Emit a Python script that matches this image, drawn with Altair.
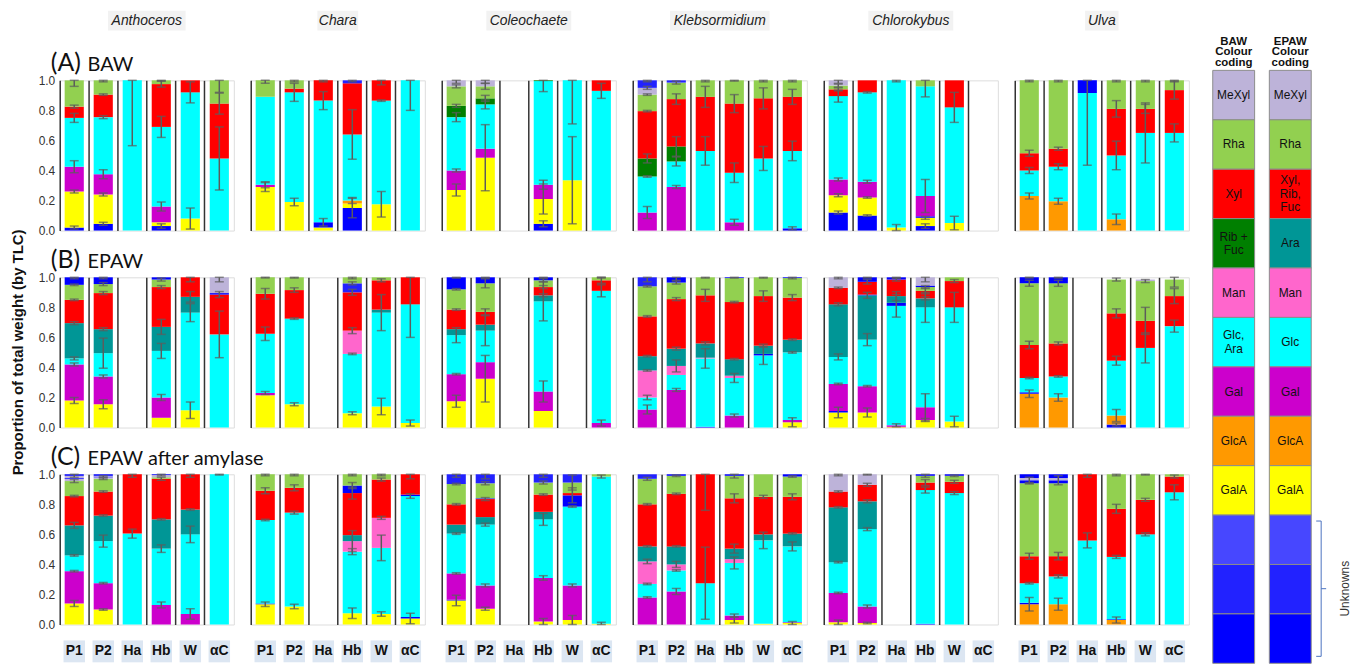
import altair as alt
import pandas as pd

GENERA = ["Anthoceros", "Chara", "Coleochaete", "Klebsormidium", "Chlorokybus", "Ulva"]
CATS = ["P1", "P2", "Ha", "Hb", "W", "αC"]
ROW_TAGS = ["(A)", "(B)", "(C)"]
ROW_NAMES = ["BAW", "EPAW", "EPAW after amylase"]
Y_TITLE = "Proportion of total weight (by TLC)"
Y_TICKS = [0.0, 0.2, 0.4, 0.6, 0.8, 1.0]

COMP_KEYS = ["MeX", "Rha", "Xyl", "RF", "Ara", "Man", "Glc", "Gal", "GlcA", "GalA", "Ud1", "Ud", "U"]
COMP_COLORS = ["#bdb3d9", "#92d050", "#ff0000", "#007f00", "#009696", "#ff66cc", "#00ffff",
               "#cc00cc", "#ff9900", "#ffff00", "#4747ff", "#2222ff", "#0000ff"]

LEG_SCHEMES = ["BAW", "EPAW"]
LEG_HEADERS = ["BAW\nColour\ncoding", "EPAW\nColour\ncoding"]
LEG_BAW_KEYS = ["MeX", "Rha", "Xyl", "RF", "Man", "Glc", "Gal", "GlcA", "GalA", "Ud1", "Ud", "U"]
LEG_BAW_LABELS = ["MeXyl", "Rha", "Xyl", "Rib +\nFuc", "Man", "Glc,\nAra", "Gal", "GlcA", "GalA", "", "", ""]
LEG_EPAW_KEYS = ["MeX", "Rha", "Xyl", "Ara", "Man", "Glc", "Gal", "GlcA", "GalA", "Ud1", "Ud", "U"]
LEG_EPAW_LABELS = ["MeXyl", "Rha", "Xyl,\nRib,\nFuc", "Ara", "Man", "Glc", "Gal", "GlcA", "GalA", "", "", ""]
UNKNOWNS_LABEL = "Unknowns"

# each bar: (component, cumulative top, error half-width)
# ---------------- (A) BAW ----------------
A_ANTHOCEROS = {
    "P1": [("U", .02, .01), ("GalA", .26, .01), ("Gal", .425, .04), ("Glc", .75, .03), ("Xyl", .825, .01), ("Rha", 1.0, .04)],
    "P2": [("U", .045, .01), ("GalA", .24, .01), ("Gal", .375, .03), ("Glc", .755, .01), ("Xyl", .905, .005), ("Rha", 1.0, .01)],
    "Ha": [("Glc", 1.0, .435)],
    "Hb": [("U", .03, .015), ("GalA", .055, 0), ("Gal", .16, .03), ("Glc", .69, .07), ("Xyl", .975, .02), ("Rha", 1.0, .005)],
    "W": [("GalA", .08, .07), ("Glc", .92, .07), ("Xyl", 1.0, 0)],
    "αC": [("Glc", .48, .21), ("Xyl", .845, .07), ("Rha", 1.0, .08)],
}
A_CHARA = {
    "P1": [("GalA", .29, .03), ("Gal", .305, .02), ("Glc", .89, 0), ("Rha", 1.0, .02)],
    "P2": [("GalA", .19, .025), ("Glc", .92, .06), ("Xyl", .945, 0), ("Rha", 1.0, .01)],
    "Ha": [("GalA", .02, 0), ("U", .055, .025), ("Glc", .865, .06), ("Xyl", 1.0, .01)],
    "Hb": [("U", .15, .065), ("GalA", .18, 0), ("GlcA", .2, .02), ("Glc", .64, .165), ("Xyl", .98, 0), ("Ud", 1.0, .01)],
    "W": [("GalA", .175, .085), ("Glc", .865, .005), ("Xyl", 1.0, .03)],
    "αC": [("Glc", 1.0, .2)],
}
A_COLEOCHAETE = {
    "P1": [("GalA", .27, .04), ("Gal", .40, .01), ("Glc", .755, .03), ("RF", .83, .01), ("Rha", .96, .01), ("MeX", 1.0, .02)],
    "P2": [("GalA", .485, .22), ("Gal", .545, 0), ("Glc", .84, .03), ("RF", .88, .02), ("Rha", .96, .02), ("MeX", 1.0, .02)],
    "Ha": [],
    "Hb": [("U", .045, .02), ("GalA", .21, .1), ("Gal", .305, .03), ("Glc", .995, .07), ("RF", 1.0, 0)],
    "W": [("GalA", .335, .29), ("Glc", 1.0, .29)],
    "αC": [("Glc", .93, .05), ("Xyl", 1.0, 0)],
}
A_KLEBSORMIDIUM = {
    "P1": [("Gal", .12, .04), ("Glc", .36, .005), ("RF", .48, .03), ("Xyl", .795, .005), ("Rha", .905, .005), ("MeX", .95, .01), ("Ud", 1.0, .01)],
    "P2": [("Gal", .29, .01), ("Glc", .46, .03), ("RF", .56, .065), ("Xyl", .875, .035), ("Rha", .985, .01), ("Ud", 1.0, 0)],
    "Ha": [("Glc", .53, .095), ("Xyl", .89, .07), ("Rha", 1.0, .01)],
    "Hb": [("Gal", .055, .02), ("Glc", .385, .065), ("Xyl", .845, .06), ("Rha", 1.0, .005)],
    "W": [("Glc", .48, .08), ("Xyl", .88, .07), ("Rha", 1.0, .01)],
    "αC": [("U", .015, .01), ("Glc", .53, .065), ("Xyl", .89, .05), ("Rha", 1.0, .01)],
}
A_CHLOROKYBUS = {
    "P1": [("U", .12, .01), ("GalA", .235, .01), ("Gal", .34, .01), ("Glc", .895, .04), ("Xyl", .94, .01), ("Rha", .965, .01), ("MeX", 1.0, .02)],
    "P2": [("U", .10, .005), ("GalA", .22, .005), ("Gal", .325, .01), ("Glc", .92, .005), ("Xyl", 1.0, 0)],
    "Ha": [("GalA", .02, .02), ("Glc", 1.0, .01)],
    "Hb": [("U", .03, .015), ("GalA", .085, .01), ("U", .095, 0), ("Gal", .23, .11), ("Glc", .96, .07), ("Rha", 1.0, 0)],
    "W": [("GalA", .05, .045), ("Glc", .82, .1), ("Xyl", 1.0, 0)],
    "αC": [],
}
A_ULVA = {
    "P1": [("GlcA", .23, .02), ("Glc", .40, .02), ("Xyl", .515, .02), ("Rha", 1.0, .01)],
    "P2": [("GlcA", .195, .02), ("Glc", .425, .02), ("Xyl", .545, .01), ("Rha", 1.0, .01)],
    "Ha": [("Glc", .915, .48), ("U", 1.0, 0)],
    "Hb": [("GlcA", .075, .035), ("Glc", .5, .095), ("Xyl", .81, .055), ("Rha", 1.0, .01)],
    "W": [("Glc", .65, .2), ("Xyl", .81, .03), ("Rha", 1.0, .01)],
    "αC": [("Glc", .65, .06), ("Xyl", .935, .06), ("Rha", 1.0, .01)],
}
# ---------------- (B) EPAW ----------------
B_ANTHOCEROS = {
    "P1": [("GalA", .18, .02), ("Gal", .42, .01), ("Glc", .46, .01), ("Ara", .695, .01), ("Xyl", .85, .005), ("Rha", .95, .005), ("U", 1.0, .01)],
    "P2": [("GalA", .155, .03), ("Gal", .34, .01), ("Glc", .495, .1), ("Ara", .655, .01), ("Xyl", .895, .01), ("Rha", .955, .01), ("U", 1.0, .01)],
    "Ha": [],
    "Hb": [("GalA", .065, 0), ("Gal", .2, .02), ("Glc", .51, .05), ("Ara", .67, .05), ("Xyl", .935, .01), ("Rha", .985, .01), ("U", 1.0, 0)],
    "W": [("GalA", .115, .055), ("Glc", .765, .06), ("Ara", .87, .035), ("Xyl", 1.0, .03)],
    "αC": [("Glc", .62, .155), ("Xyl", .885, .02), ("U", .895, 0), ("MeX", 1.0, .03)],
}
B_CHARA = {
    "P1": [("GalA", .215, 0), ("Gal", .23, .01), ("Glc", .625, .045), ("Xyl", .89, .035), ("Rha", 1.0, .005)],
    "P2": [("GalA", .155, .01), ("Glc", .725, .005), ("Xyl", .915, .015), ("Rha", 1.0, .005)],
    "Ha": [],
    "Hb": [("GalA", .095, .01), ("Glc", .49, .005), ("Man", .645, .02), ("Xyl", .9, .02), ("Ud", .96, .01), ("Rha", 1.0, .01)],
    "W": [("GalA", .14, .055), ("Glc", .765, .12), ("Ara", .785, 0), ("Xyl", .98, .01), ("Rha", 1.0, 0)],
    "αC": [("GalA", .03, .02), ("Glc", .82, .22), ("Xyl", 1.0, 0)],
}
B_COLEOCHAETE = {
    "P1": [("GalA", .175, .04), ("Gal", .355, .005), ("Glc", .615, .05), ("Ara", .655, 0), ("Xyl", .785, .005), ("Rha", .92, .005), ("U", 1.0, .005)],
    "P2": [("GalA", .325, .155), ("Gal", .435, 0), ("Glc", .645, .1), ("Ara", .685, 0), ("Xyl", .77, .02), ("Rha", .96, .03), ("U", 1.0, .005)],
    "Ha": [],
    "Hb": [("GalA", .11, 0), ("Gal", .24, .07), ("Glc", .84, .13), ("Ara", .88, .01), ("Xyl", .935, .01), ("Rha", .98, .01), ("U", 1.0, .005)],
    "W": [],
    "αC": [("Gal", .03, .02), ("Glc", .91, .04), ("Xyl", .98, .02), ("Rha", 1.0, .005)],
}
B_KLEBSORMIDIUM = {
    "P1": [("Gal", .12, .03), ("Glc", .2, .015), ("Man", .38, .005), ("Ara", .475, .005), ("Xyl", .74, .005), ("Rha", .94, .005), ("Ud", 1.0, .03)],
    "P2": [("Gal", .25, .01), ("Glc", .35, 0), ("Man", .41, .04), ("Ara", .525, .01), ("Xyl", .855, .01), ("Rha", .965, .01), ("U", 1.0, .02)],
    "Ha": [("U", .005, 0), ("Glc", .46, .065), ("Man", .465, 0), ("Ara", .56, .01), ("Xyl", .88, .04), ("Rha", 1.0, .005)],
    "Hb": [("Gal", .08, .01), ("Glc", .33, .03), ("Man", .345, 0), ("Ara", .455, .005), ("Xyl", .835, .005), ("Rha", .995, 0), ("U", 1.0, .005)],
    "W": [("Glc", .48, .06), ("U", .49, 0), ("Ara", .545, .01), ("Xyl", .875, .035), ("Rha", 1.0, .005)],
    "αC": [("GalA", .035, .03), ("Gal", .05, 0), ("Glc", .5, .005), ("Ara", .585, .005), ("Xyl", .865, .02), ("Rha", .995, .005), ("U", 1.0, 0)],
}
B_CHLOROKYBUS = {
    "P1": [("GalA", .10, .035), ("U", .11, 0), ("Gal", .29, .005), ("Glc", .47, .02), ("Ara", .82, .01), ("Xyl", .93, .005), ("MeX", 1.0, .01)],
    "P2": [("GalA", .10, .03), ("Gal", .275, .005), ("Glc", .585, .04), ("Ara", .88, .02), ("U", .885, 0), ("Xyl", .97, .015), ("U", 1.0, .005)],
    "Ha": [("GlcA", .005, 0), ("Gal", .015, .01), ("Glc", .81, .075), ("U", .83, 0), ("Ara", .875, .03), ("Xyl", .985, .01), ("U", 1.0, .005)],
    "Hb": [("GalA", .05, .01), ("Gal", .135, .09), ("Glc", .80, .1), ("Ara", .86, .01), ("Xyl", .91, .02), ("Rha", .935, .01), ("U", .945, 0), ("MeX", 1.0, .03)],
    "W": [("GalA", .04, .035), ("Glc", .80, .1), ("Xyl", .975, .01), ("Rha", 1.0, 0)],
    "αC": [],
}
B_ULVA = {
    "P1": [("GlcA", .225, .025), ("U", .235, 0), ("Glc", .33, .005), ("Xyl", .55, .025), ("Rha", .96, .02), ("U", 1.0, .005)],
    "P2": [("GlcA", .20, .025), ("Glc", .34, .005), ("Xyl", .56, .01), ("Rha", .96, .02), ("U", 1.0, .005)],
    "Ha": [],
    "Hb": [("U", .02, .01), ("GlcA", .08, .04), ("Glc", .445, .03), ("Xyl", .76, .03), ("Rha", .985, .01)],
    "W": [("Glc", .53, .1), ("Xyl", .71, .09), ("Rha", .975, .01), ("MeX", .985, 0)],
    "αC": [("Glc", .675, .04), ("Xyl", .875, .05), ("Rha", .985, .05)],
}
# ---------------- (C) EPAW after amylase ----------------
C_ANTHOCEROS = {
    "P1": [("GalA", .14, .02), ("Gal", .355, .005), ("Glc", .46, .005), ("Ara", .66, .02), ("Xyl", .855, .005), ("Rha", .955, .01), ("MeX", .97, 0), ("U", .975, 0), ("MeX", .99, .01), ("U", 1.0, 0)],
    "P2": [("GalA", .10, .005), ("Gal", .275, .005), ("Glc", .555, .04), ("Ara", .725, .005), ("Xyl", .885, .005), ("Rha", .97, .005), ("MeX", .98, 0), ("U", .985, .005), ("MeX", .99, 0), ("U", 1.0, 0)],
    "Ha": [("Glc", .605, .03), ("Xyl", 1.0, .02)],
    "Hb": [("Gal", .13, .02), ("Glc", .505, .025), ("Ara", .70, .005), ("Xyl", .97, .01), ("Rha", .98, 0), ("MeX", .995, .005), ("U", 1.0, 0)],
    "W": [("Gal", .07, .035), ("Glc", .60, .055), ("Ara", .765, .005), ("Xyl", 1.0, .02)],
    "αC": [("Glc", 1.0, .005)],
}
C_CHARA = {
    "P1": [("GalA", .135, .015), ("U", .14, 0), ("Glc", .695, .005), ("Xyl", .89, .02), ("Rha", 1.0, .01)],
    "P2": [("GalA", .12, .015), ("Glc", .745, .01), ("Xyl", .91, .02), ("Rha", 1.0, .01)],
    "Ha": [],
    "Hb": [("GalA", .075, .035), ("Glc", .485, .02), ("Man", .555, .07), ("Ara", .595, 0), ("Xyl", .875, .04), ("U", .925, .02), ("Rha", 1.0, .01)],
    "W": [("GalA", .07, .015), ("Glc", .51, .085), ("Man", .71, .01), ("Xyl", .965, .01), ("Rha", 1.0, .01)],
    "αC": [("GalA", .04, .035), ("U", .05, 0), ("Glc", .855, .015), ("U", .865, 0), ("Xyl", 1.0, .03)],
}
C_COLEOCHAETE = {
    "P1": [("GalA", .16, .035), ("U", .165, 0), ("Gal", .34, .005), ("Glc", .605, .005), ("Ara", .665, 0), ("Xyl", .80, .005), ("Rha", .935, .005), ("Ud", 1.0, .02)],
    "P2": [("GalA", .105, .01), ("Gal", .26, .01), ("Glc", .665, .01), ("Ara", .715, 0), ("Xyl", .835, .01), ("U", .84, 0), ("Rha", .94, .01), ("Ud", 1.0, .03)],
    "Ha": [],
    "Hb": [("GalA", .02, .02), ("Gal", .31, .015), ("Glc", .70, .04), ("Ara", .75, 0), ("Xyl", .865, .005), ("Rha", .945, .01), ("Ud", 1.0, .02)],
    "W": [("GalA", .03, .03), ("Gal", .26, .01), ("Glc", .785, .005), ("U", .86, .05), ("Xyl", .875, 0), ("Rha", .945, .05), ("Ud", 1.0, 0)],
    "αC": [("GalA", .005, .01), ("Glc", .985, .01), ("Rha", 1.0, 0)],
}
C_KLEBSORMIDIUM = {
    "P1": [("Gal", .18, .005), ("Glc", .27, .005), ("Man", .42, .015), ("Ara", .52, .005), ("Xyl", .80, .005), ("Rha", .97, .01), ("Ud", 1.0, 0)],
    "P2": [("Gal", .22, .02), ("Glc", .36, .005), ("Man", .40, .02), ("Ara", .52, .005), ("Xyl", .87, .005), ("Rha", .99, .005), ("U", 1.0, 0)],
    "Ha": [("Glc", .275, .24), ("Xyl", 1.0, .24)],
    "Hb": [("GalA", .03, .02), ("Gal", .06, .01), ("Glc", .41, .04), ("Man", .435, 0), ("Ara", .505, .03), ("Xyl", .84, .03), ("Rha", .99, .015), ("U", 1.0, 0)],
    "W": [("GalA", .005, 0), ("Glc", .56, .055), ("Ara", .60, 0), ("Xyl", .85, .01), ("Rha", 1.0, 0)],
    "αC": [("GalA", .01, .01), ("Gal", .015, 0), ("Glc", .52, .03), ("Ara", .605, .005), ("Xyl", .85, .02), ("Rha", .985, .005), ("U", 1.0, 0)],
}
C_CHLOROKYBUS = {
    "P1": [("GalA", .015, .015), ("Gal", .21, .005), ("Glc", .415, .005), ("Ara", .78, .005), ("Xyl", .885, .005), ("MeX", 1.0, .01)],
    "P2": [("GalA", .01, .005), ("Gal", .12, .01), ("Glc", .635, .01), ("Ara", .82, .01), ("Xyl", .93, .01), ("MeX", 1.0, .005)],
    "Ha": [],
    "Hb": [("U", .005, 0), ("Glc", .895, .02), ("Xyl", .945, .02), ("Rha", .99, .01), ("U", 1.0, 0)],
    "W": [("Glc", .875, .01), ("Xyl", .95, .01), ("Rha", .99, .005), ("U", 1.0, 0)],
    "αC": [],
}
C_ULVA = {
    "P1": [("GlcA", .135, .045), ("U", .145, 0), ("Glc", .275, .005), ("Xyl", .455, .02), ("Rha", .94, .005), ("U", .96, .02), ("MeX", .975, 0), ("U", 1.0, 0)],
    "P2": [("GlcA", .135, .04), ("Glc", .32, .01), ("Xyl", .455, .025), ("Rha", .94, 0), ("U", .96, .03), ("MeX", .975, 0), ("U", 1.0, 0)],
    "Ha": [("Glc", .56, .05), ("Xyl", 1.0, .02)],
    "Hb": [("GlcA", .03, .02), ("U", .035, 0), ("Glc", .45, .01), ("Xyl", .77, .03), ("Rha", 1.0, .01)],
    "W": [("Glc", .60, .01), ("Xyl", .83, .01), ("Rha", 1.0, .005)],
    "αC": [("Glc", .88, .05), ("Xyl", .985, .01), ("Rha", 1.0, 0)],
}

PANELS = [
    [A_ANTHOCEROS, A_CHARA, A_COLEOCHAETE, A_KLEBSORMIDIUM, A_CHLOROKYBUS, A_ULVA],
    [B_ANTHOCEROS, B_CHARA, B_COLEOCHAETE, B_KLEBSORMIDIUM, B_CHLOROKYBUS, B_ULVA],
    [C_ANTHOCEROS, C_CHARA, C_COLEOCHAETE, C_KLEBSORMIDIUM, C_CHLOROKYBUS, C_ULVA],
]

PW, PH = 175, 151
LW = 99
FONT = "Liberation Sans"
color_scale = alt.Scale(domain=COMP_KEYS, range=COMP_COLORS)
NOSTROKE = alt.ViewBackground(stroke="transparent")


def frames(pdata):
    bars, errs = [], []
    for cat in CATS:
        prev = 0.0
        for k, (comp, top, err) in enumerate(pdata.get(cat, [])):
            bars.append({"cat": cat, "comp": comp, "h": round(top - prev, 4), "ord": k})
            if err > 0:
                errs.append({"cat": cat, "lo": max(0.0, top - err), "hi": min(1.0, top + err)})
            prev = top
    return (pd.DataFrame(bars, columns=["cat", "comp", "h", "ord"]),
            pd.DataFrame(errs, columns=["cat", "lo", "hi"]))


def make_panel(r, c):
    bars, errs = frames(PANELS[r][c])
    xenc = alt.X("cat:N", scale=alt.Scale(domain=CATS, paddingInner=0, paddingOuter=0),
                 axis=alt.Axis(title=None, labels=False, ticks=False, domain=False, grid=True,
                               bandPosition=0, gridColor="#333333", gridWidth=1.5, gridOpacity=1))
    if c == 0:
        yaxis = alt.Axis(title=None, values=Y_TICKS, format=".1f", grid=False, domain=False,
                         ticks=False, labelFont=FONT, labelFontSize=12, labelColor="#333333",
                         labelPadding=5)
    else:
        yaxis = None
    yscale = alt.Scale(domain=[0, 1], nice=False)
    layers = [
        alt.Chart(bars).mark_bar(width=alt.RelativeBandSize(0.66)).encode(
            x=xenc,
            y=alt.Y("h:Q", stack="zero", scale=yscale, axis=yaxis),
            color=alt.Color("comp:N", scale=color_scale, legend=None),
            order=alt.Order("ord:Q", sort="ascending"),
        ),
        alt.Chart(errs).mark_errorbar(ticks=True, size=9, thickness=1.5, color="#5c5c5c").encode(
            x=alt.X("cat:N"),
            y=alt.Y("lo:Q", scale=yscale, axis=yaxis),
            y2="hi:Q",
        ),
    ]
    if r == 0:
        g = GENERA[c]
        half = len(g) * 3.7 + 2
        gdf = pd.DataFrame({"g": [g]})
        layers.append(alt.Chart(gdf).mark_rect(color="#f2f2f2").encode(
            x=alt.value(PW / 2 - half), x2=alt.value(PW / 2 + half),
            y=alt.value(-70), y2=alt.value(-50)))
        layers.append(alt.Chart(gdf).mark_text(fontStyle="italic", fontSize=14, font=FONT,
                                               baseline="alphabetic", color="#222222").encode(
            x=alt.value(PW / 2), y=alt.value(-56), text="g:N"))
    if c == 0:
        one = pd.DataFrame({"tag": [ROW_TAGS[r]], "name": [ROW_NAMES[r]], "yt": [Y_TITLE]})
        layers.append(alt.Chart(one).mark_text(align="left", baseline="alphabetic", fontSize=25,
                                               font="Lato", color="#111111").encode(
            x=alt.value(-9), y=alt.value(-9), text="tag:N"))
        layers.append(alt.Chart(one).mark_text(align="left", baseline="alphabetic", fontSize=20,
                                               font="Lato", color="#111111").encode(
            x=alt.value(28), y=alt.value(-9), text="name:N"))
        if r == 1:
            layers.append(alt.Chart(one).mark_text(angle=270, fontSize=15, fontWeight="bold",
                                                   font=FONT, color="#111111").encode(
                x=alt.value(-42), y=alt.value(PH / 2), text="yt:N"))
    if r == 2:
        lab = pd.DataFrame({"cat": CATS})
        layers.append(alt.Chart(lab).mark_bar(width=alt.RelativeBandSize(0.74), color="#dce6f2").encode(
            x=alt.X("cat:N"), y=alt.value(PH + 16), y2=alt.value(PH + 38)))
        layers.append(alt.Chart(lab).mark_text(fontWeight="bold", fontSize=14, font=FONT,
                                               color="#111111").encode(
            x=alt.X("cat:N"), y=alt.value(PH + 27), text="cat:N"))
    return alt.layer(*layers).properties(width=PW, height=PH)


# legend column
leg_rows = []
for s, keys, labels in [("BAW", LEG_BAW_KEYS, LEG_BAW_LABELS), ("EPAW", LEG_EPAW_KEYS, LEG_EPAW_LABELS)]:
    for i, (k, l) in enumerate(zip(keys, labels)):
        leg_rows.append({"scheme": s, "idx": i, "comp": k, "label": l, "nl": l.count("\n") + 1})
leg_df = pd.DataFrame(leg_rows)
head_df = pd.DataFrame({"scheme": LEG_SCHEMES, "header": LEG_HEADERS})
one = pd.DataFrame({"u": [UNKNOWNS_LABEL]})

LX0 = 7
LH = 13.5
lx = alt.X("scheme:N", scale=alt.Scale(domain=LEG_SCHEMES, range=[LX0, LX0 + LW], paddingInner=0.26,
                                       paddingOuter=0), axis=None)
ly = alt.Y("idx:O", scale=alt.Scale(domain=list(range(12)), range=[-10, 586], paddingInner=0,
                                    paddingOuter=0), axis=None)
brace_col = "#4a72c0"
BX = LX0 + 109
leg_layers = [
    alt.Chart(leg_df).mark_rect(stroke="#8c8c8c", strokeWidth=1).encode(
        x=lx, y=ly, color=alt.Color("comp:N", scale=color_scale, legend=None)),
]
for n in (1, 2, 3):
    sub = leg_df[leg_df["nl"] == n]
    leg_layers.append(alt.Chart(sub).mark_text(fontSize=12, font=FONT, lineBreak="\n", lineHeight=LH,
                                               dy=-(n - 1) * LH / 2, color="#111111").encode(
        x=lx, y=ly, text="label:N"))
leg_layers += [
    alt.Chart(head_df).mark_text(fontSize=11.5, fontWeight="bold", font=FONT, lineBreak="\n",
                                 baseline="top", lineHeight=11, color="#111111").encode(
        x=lx, y=alt.value(-45), text="header:N"),
    alt.Chart(one).mark_rule(color=brace_col, strokeWidth=1).encode(
        x=alt.value(BX), y=alt.value(443), y2=alt.value(579)),
    alt.Chart(one).mark_rule(color=brace_col, strokeWidth=1).encode(
        x=alt.value(BX - 5), x2=alt.value(BX), y=alt.value(443)),
    alt.Chart(one).mark_rule(color=brace_col, strokeWidth=1).encode(
        x=alt.value(BX - 5), x2=alt.value(BX), y=alt.value(579)),
    alt.Chart(one).mark_rule(color=brace_col, strokeWidth=1).encode(
        x=alt.value(BX), x2=alt.value(BX + 5), y=alt.value(511)),
    alt.Chart(one).mark_text(angle=270, fontSize=12, font=FONT, color="#333333").encode(
        x=alt.value(BX + 24), y=alt.value(511), text="u:N"),
]
legend = alt.layer(*leg_layers).properties(width=LW, height=PH, view=NOSTROKE)

spacer = alt.Chart(one).mark_text(text="").encode(
    x=alt.value(0), y=alt.value(0)).properties(width=LW, height=PH, view=NOSTROKE)

items = []
for r in range(3):
    items.extend(make_panel(r, c) for c in range(6))
    if r == 0:
        items.append(legend)
    elif r == 1:
        items.append(spacer)

chart = alt.concat(*items, columns=7, spacing={"row": 47, "column": 17}, bounds="flush",
                   align="each").properties(
    padding={"left": 2, "top": 0, "right": 2, "bottom": 0}
).configure_view(stroke="#333333", strokeWidth=2).configure(font=FONT)

chart.save("out.html", embed_options={"renderer": "svg", "actions": False})
